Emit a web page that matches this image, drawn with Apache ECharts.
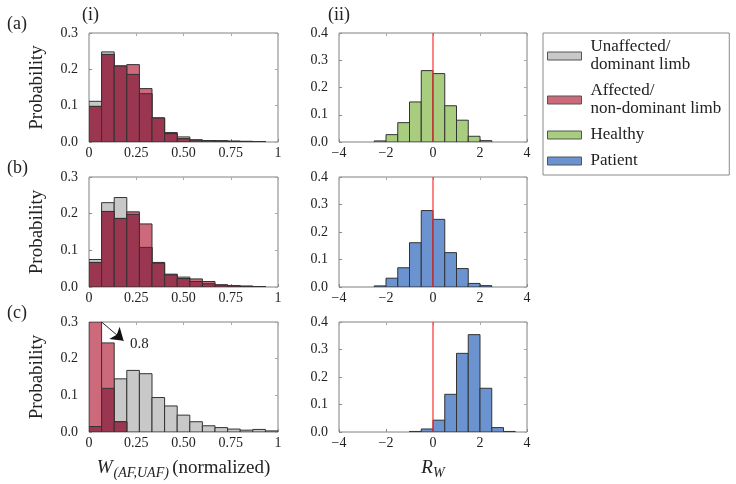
<!DOCTYPE html>
<html>
<head>
<meta charset="utf-8">
<script src="https://cdn.jsdelivr.net/npm/echarts@6/dist/echarts.min.js"></script>
<style>html,body{margin:0;background:#fff}#main{width:736px;height:484px}</style>
</head>
<body>
<div id="main"></div>
<script>
// W(AF,UAF) histograms, 15 bins over [0,1]
var aUnaffected = [0.112,0.248,0.209,0.186,0.133,0.066,0.026,0.014,0.006,0.004,0.003,0.002,0.002,0.001,0];
var aAffected   = [0.098,0.241,0.209,0.213,0.147,0.066,0.023,0.009,0.005,0.004,0.003,0.002,0.001,0.001,0];
var bUnaffected = [0.075,0.230,0.244,0.198,0.108,0.067,0.035,0.027,0.015,0.009,0.005,0.004,0.002,0.001,0];
var bAffected   = [0.067,0.206,0.187,0.205,0.172,0.065,0.033,0.023,0.022,0.015,0.006,0.003,0.002,0.001,0];
var cUnaffected = [0.015,0.119,0.145,0.168,0.159,0.094,0.071,0.046,0.028,0.017,0.012,0.008,0.005,0.007,0.003];
var cAffected   = [0.8,0.243,0.028,0,0,0,0,0,0,0,0,0,0,0,0];
// R_W histograms, 16 bins of 0.5 over [-4,4]
var healthyR  = [0,0,0,0.004,0.027,0.071,0.147,0.262,0.251,0.133,0.080,0.021,0.005,0,0,0];
var patientRb = [0,0,0,0.004,0.032,0.070,0.161,0.278,0.246,0.125,0.067,0.013,0.005,0,0,0];
var patientRc = [0,0,0,0,0,0,0.002,0.011,0.043,0.137,0.286,0.354,0.159,0.016,0.002,0];

var F = 'Liberation Serif';
var NU = 'Unaffected/\ndominant limb';
var NA = 'Affected/\nnon-dominant limb';
var GRAY = '#c8c8c8', PINK = '#cc6a7c', DARK = '#9a3650', GREEN = '#a9cd7e', BLUE = '#6b93d0';
var EDGE = '#333';

function binRows(vals, lo, w) {
    return vals.map(function (v, i) { return [lo + i * w, lo + (i + 1) * w, v]; });
}
function overlap(a, b) {
    return a.map(function (v, i) { return Math.min(v, b[i]); });
}
function histRender(fill) {
    return function (params, api) {
        var v = api.value(2);
        if (!v) return null;
        var cs = params.coordSys;
        var p0 = api.coord([api.value(0), v]);
        var p1 = api.coord([api.value(1), 0]);
        var top = Math.max(p0[1], cs.y);
        return {
            type: 'rect',
            shape: {x: p0[0], y: top, width: p1[0] - p0[0], height: p1[1] - top},
            style: {fill: fill, stroke: EDGE, lineWidth: 1}
        };
    };
}
function hist(name, gi, vals, lo, w, fill, extra) {
    var s = {
        type: 'custom', name: name, xAxisIndex: gi, yAxisIndex: gi,
        clip: true, silent: true,
        itemStyle: {color: fill},
        renderItem: histRender(fill),
        encode: {x: [0, 1], y: 2},
        data: binRows(vals, lo, w)
    };
    for (var k in extra) s[k] = extra[k];
    return s;
}
// vertical reference line at R_W = 0
function zeroLine(gi) {
    return {
        type: 'line', name: 'zero', xAxisIndex: gi, yAxisIndex: gi,
        silent: true, symbol: 'none', z: 5,
        lineStyle: {color: '#ff3030', width: 1.2},
        data: [[0, 0], [0, 0.4]]
    };
}

// panel rectangles
var grids = [
    {left: 89, top: 33, width: 189, height: 109},
    {left: 89, top: 177, width: 189, height: 110},
    {left: 89, top: 322, width: 189, height: 110},
    {left: 339, top: 33, width: 188, height: 109},
    {left: 339, top: 177, width: 188, height: 110},
    {left: 339, top: 322, width: 188, height: 110}
];
grids.forEach(function (g) { g.show = true; g.borderColor = '#808080'; g.borderWidth = 1; g.containLabel = false; });

var noLine = {show: false, onZero: false};
var xAxes = [], yAxes = [];
grids.forEach(function (g, i) {
    var left = i < 3;
    var xa = {
        type: 'value', gridIndex: i,
        min: left ? 0 : -4, max: left ? 1 : 4, interval: left ? 0.25 : 2,
        axisLine: noLine, splitLine: {show: false},
        axisTick: {inside: true, length: 3, lineStyle: {color: '#8a8a8a'}},
        axisLabel: {margin: 4, fontFamily: F, fontSize: 14, color: '#222',
            formatter: left ? function (v) { return (v === 0 || v === 1) ? String(v) : v.toFixed(2); }
                            : function (v) { return v < 0 ? '\u2212' + (-v) : String(v); }}
    };
    if (i === 2) {
        xa.name = '{w|W}{s|(AF,UAF)} {n|(normalized)}';
        xa.nameLocation = 'middle'; xa.nameGap = 24;
        xa.nameTextStyle = {rich: {
            w: {fontFamily: F, fontSize: 19, fontStyle: 'italic', color: '#222'},
            s: {fontFamily: F, fontSize: 14, fontStyle: 'italic', color: '#222', padding: [10, 0, 0, 1]},
            n: {fontFamily: F, fontSize: 19, color: '#222'}
        }};
    }
    if (i === 5) {
        xa.name = '{r|R}{s|W}';
        xa.nameLocation = 'middle'; xa.nameGap = 24;
        xa.nameTextStyle = {rich: {
            r: {fontFamily: F, fontSize: 19, fontStyle: 'italic', color: '#222'},
            s: {fontFamily: F, fontSize: 14, fontStyle: 'italic', color: '#222', padding: [10, 0, 0, 0]}
        }};
    }
    xAxes.push(xa);
    var ya = {
        type: 'value', gridIndex: i,
        min: 0, max: left ? 0.3 : 0.4, interval: 0.1,
        axisLine: noLine, splitLine: {show: false},
        axisTick: {inside: true, length: 3, lineStyle: {color: '#8a8a8a'}},
        axisLabel: {margin: 11, fontFamily: F, fontSize: 14, color: '#222',
            formatter: function (v) { return v.toFixed(1); }}
    };
    if (left) {
        ya.name = 'Probability';
        ya.nameLocation = 'middle'; ya.nameGap = 42;
        ya.nameTextStyle = {fontFamily: F, fontSize: 19, color: '#222'};
    }
    yAxes.push(ya);
});
// mirror ticks on top / right edges
grids.forEach(function (g, i) {
    var left = i < 3;
    xAxes.push({type: 'value', gridIndex: i, position: 'top',
        min: left ? 0 : -4, max: left ? 1 : 4, interval: left ? 0.25 : 2,
        axisLine: noLine, splitLine: {show: false}, axisLabel: {show: false},
        axisTick: {inside: true, length: 3, lineStyle: {color: '#aaa'}}});
    yAxes.push({type: 'value', gridIndex: i, position: 'right',
        min: 0, max: left ? 0.3 : 0.4, interval: 0.1,
        axisLine: noLine, splitLine: {show: false}, axisLabel: {show: false},
        axisTick: {inside: true, length: 3, lineStyle: {color: '#aaa'}}});
});

var W = 1 / 15;
var series = [
    hist(NU, 0, aUnaffected, 0, W, GRAY),
    hist(NA, 0, aAffected, 0, W, PINK),
    hist('both', 0, overlap(aUnaffected, aAffected), 0, W, DARK),
    hist(NU, 1, bUnaffected, 0, W, GRAY),
    hist(NA, 1, bAffected, 0, W, PINK),
    hist('both', 1, overlap(bUnaffected, bAffected), 0, W, DARK),
    hist(NU, 2, cUnaffected, 0, W, GRAY),
    hist(NA, 2, cAffected, 0, W, PINK),
    hist('both', 2, overlap(cUnaffected, cAffected), 0, W, DARK, {
        markLine: {
            silent: true, animation: false, symbol: ['none', 'arrow'], symbolSize: 12,
            lineStyle: {color: '#111', width: 0.9, type: 'solid'},
            label: {show: false},
            data: [[{coord: [W, 0.3]}, {coord: [0.183, 0.249]}]]
        },
        markPoint: {
            silent: true, animation: false, symbol: 'circle', symbolSize: 0,
            label: {show: true, position: 'right', distance: 5, formatter: '0.8',
                fontFamily: F, fontSize: 15, color: '#222'},
            data: [{coord: [0.19, 0.24]}]
        }
    }),
    hist('Healthy', 3, healthyR, -4, 0.5, GREEN),
    hist('Patient', 4, patientRb, -4, 0.5, BLUE),
    hist('Patient', 5, patientRc, -4, 0.5, BLUE),
    zeroLine(3), zeroLine(4), zeroLine(5)
];

var T = {fontFamily: F, fontSize: 18, fontWeight: 'normal', color: '#222'};
var chart = echarts.init(document.getElementById('main'));
chart.setOption({
    animation: false,
    backgroundColor: '#fff',
    title: [
        {text: '(a)', left: 7, top: 15, padding: 0, textStyle: T},
        {text: '(b)', left: 7, top: 159, padding: 0, textStyle: T},
        {text: '(c)', left: 7, top: 304, padding: 0, textStyle: T},
        {text: '(i)', left: 82, top: 6, padding: 0, textStyle: T},
        {text: '(ii)', left: 328, top: 6, padding: 0, textStyle: T}
    ],
    legend: {
        left: 543, top: 33, orient: 'vertical',
        selectedMode: false,
        itemWidth: 34, itemHeight: 8, itemGap: 8,
        borderColor: '#8a8a8a', borderWidth: 1, padding: [5, 8, 5, 4],
        textStyle: {fontFamily: F, fontSize: 17, lineHeight: 18, color: '#222', padding: [0, 0, 0, 4]},
        data: [
            {name: NU, icon: 'rect', itemStyle: {color: GRAY, borderColor: '#555', borderWidth: 1}},
            {name: NA, icon: 'rect', itemStyle: {color: PINK, borderColor: '#555', borderWidth: 1}},
            {name: 'Healthy', icon: 'rect', itemStyle: {color: GREEN, borderColor: '#555', borderWidth: 1}},
            {name: 'Patient', icon: 'rect', itemStyle: {color: BLUE, borderColor: '#555', borderWidth: 1}}
        ]
    },
    grid: grids,
    xAxis: xAxes,
    yAxis: yAxes,
    series: series
});
</script>
</body>
</html>
